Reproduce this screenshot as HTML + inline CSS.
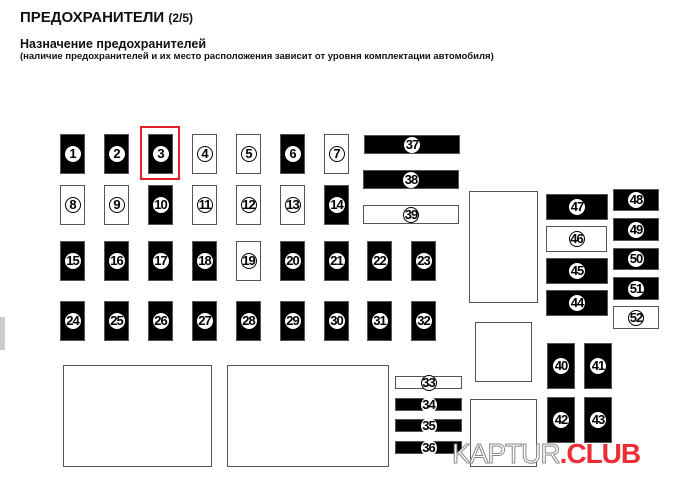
<!DOCTYPE html>
<html><head><meta charset="utf-8"><style>
body{margin:0;width:680px;height:484px;background:#fff;position:relative;overflow:hidden;font-family:"Liberation Sans",Arial,sans-serif}
.t{position:absolute;white-space:nowrap;font-weight:bold;color:#111}
.f{position:absolute;box-sizing:border-box;border:1px solid #555;background:#000;display:flex;align-items:center;justify-content:center}
.w{background:#fff}
.f span{width:16px;height:16px;border-radius:50%;background:#fff;color:#000;font-weight:bold;font-size:13px;line-height:16px;text-align:center;letter-spacing:-1px;box-sizing:border-box}
.w span{border:1px solid #000;line-height:14px}
.b{position:absolute;box-sizing:border-box;border:1px solid #555;background:#fff}
.c1{left:60px}.c2{left:104px}.c3{left:148px}.c4{left:192px}.c5{left:236px}.c6{left:280px}.c7{left:324px}
.r1{top:134px}.r2{top:185px}.r3{top:241px}.r4{top:301px}
.s{width:25px;height:40px}
</style></head><body>
<div class="t" style="left:20px;top:9px;font-size:15px">ПРЕДОХРАНИТЕЛИ <span style="font-size:12px">(2/5)</span></div>
<div class="t" style="left:20px;top:37px;font-size:12.5px">Назначение предохранителей</div>
<div class="t" style="left:20px;top:51px;font-size:9.5px">(наличие предохранителей и их место расположения зависит от уровня комплектации автомобиля)</div>
<div style="position:absolute;left:0;top:317px;width:5px;height:33px;background:#ccc"></div>

<div class="f s c1 r1"><span>1</span></div>
<div class="f s c2 r1"><span>2</span></div>
<div class="f s c3 r1"><span>3</span></div>
<div class="f s w c4 r1"><span>4</span></div>
<div class="f s w c5 r1"><span>5</span></div>
<div class="f s c6 r1"><span>6</span></div>
<div class="f s w c7 r1"><span>7</span></div>
<div style="position:absolute;left:140px;top:126px;width:40px;height:54px;box-sizing:border-box;border:2px solid #e3212b"></div>

<div class="f s w c1 r2"><span>8</span></div>
<div class="f s w c2 r2"><span>9</span></div>
<div class="f s c3 r2"><span>10</span></div>
<div class="f s w c4 r2"><span>11</span></div>
<div class="f s w c5 r2"><span>12</span></div>
<div class="f s w c6 r2"><span>13</span></div>
<div class="f s c7 r2"><span>14</span></div>

<div class="f s c1 r3"><span>15</span></div>
<div class="f s c2 r3"><span>16</span></div>
<div class="f s c3 r3"><span>17</span></div>
<div class="f s c4 r3"><span>18</span></div>
<div class="f s w c5 r3"><span>19</span></div>
<div class="f s c6 r3"><span>20</span></div>
<div class="f s c7 r3"><span>21</span></div>
<div class="f s r3" style="left:367px"><span>22</span></div>
<div class="f s r3" style="left:411px"><span>23</span></div>

<div class="f s c1 r4"><span>24</span></div>
<div class="f s c2 r4"><span>25</span></div>
<div class="f s c3 r4"><span>26</span></div>
<div class="f s c4 r4"><span>27</span></div>
<div class="f s c5 r4"><span>28</span></div>
<div class="f s c6 r4"><span>29</span></div>
<div class="f s c7 r4"><span>30</span></div>
<div class="f s r4" style="left:367px"><span>31</span></div>
<div class="f s r4" style="left:411px"><span>32</span></div>

<div class="f" style="left:364px;top:135px;width:96px;height:19px"><span>37</span></div>
<div class="f" style="left:363px;top:170px;width:96px;height:19px"><span>38</span></div>
<div class="f w" style="left:363px;top:205px;width:96px;height:19px"><span>39</span></div>

<div class="b" style="left:469px;top:191px;width:69px;height:112px"></div>
<div class="b" style="left:475px;top:322px;width:57px;height:60px"></div>
<div class="b" style="left:470px;top:399px;width:67px;height:68px"></div>
<div class="b" style="left:63px;top:365px;width:149px;height:102px"></div>
<div class="b" style="left:227px;top:365px;width:162px;height:102px"></div>

<div class="f" style="left:546px;top:194px;width:62px;height:26px"><span>47</span></div>
<div class="f w" style="left:546px;top:226px;width:61px;height:26px"><span>46</span></div>
<div class="f" style="left:546px;top:258px;width:62px;height:26px"><span>45</span></div>
<div class="f" style="left:546px;top:290px;width:62px;height:26px"><span>44</span></div>

<div class="f" style="left:613px;top:189px;width:46px;height:22px"><span>48</span></div>
<div class="f" style="left:613px;top:218px;width:46px;height:23px"><span>49</span></div>
<div class="f" style="left:613px;top:248px;width:46px;height:22px"><span>50</span></div>
<div class="f" style="left:613px;top:277px;width:46px;height:23px"><span>51</span></div>
<div class="f w" style="left:613px;top:306px;width:46px;height:23px"><span>52</span></div>

<div class="f" style="left:547px;top:343px;width:28px;height:46px"><span>40</span></div>
<div class="f" style="left:584px;top:343px;width:28px;height:46px"><span>41</span></div>
<div class="f" style="left:547px;top:397px;width:28px;height:46px"><span>42</span></div>
<div class="f" style="left:584px;top:397px;width:28px;height:46px"><span>43</span></div>

<div class="f w" style="left:395px;top:376px;width:67px;height:13px"><span>33</span></div>
<div class="f" style="left:395px;top:398px;width:67px;height:13px"><span>34</span></div>
<div class="f" style="left:395px;top:419px;width:67px;height:13px"><span>35</span></div>
<div class="f" style="left:395px;top:441px;width:67px;height:13px"><span>36</span></div>

<div class="t" style="left:452px;top:438px;font-size:28px;letter-spacing:-1px;font-weight:normal"><span style="color:#fff;-webkit-text-stroke:1px #888">KAPTUR</span><span style="color:#ee2d35;font-weight:bold">.CLUB</span></div>
</body></html>
